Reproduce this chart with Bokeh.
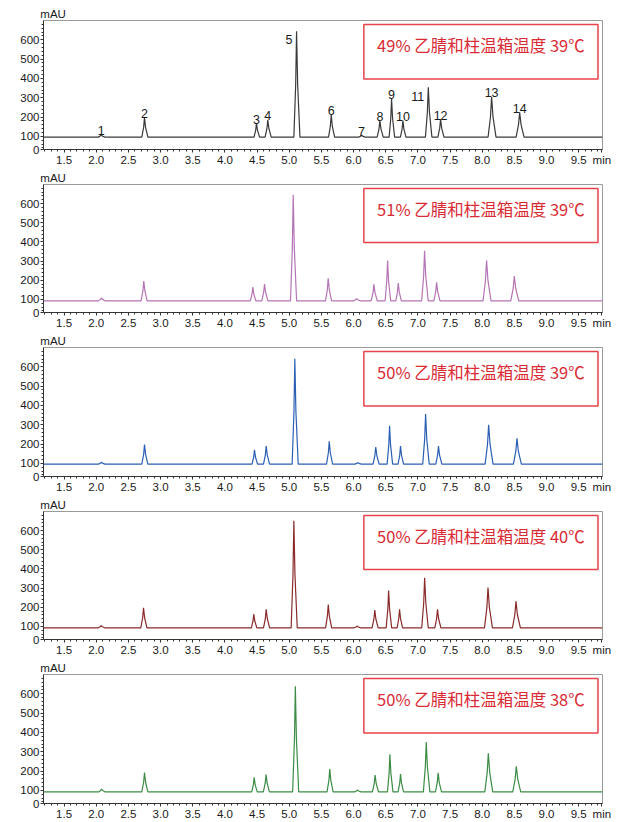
from bokeh.plotting import figure
from bokeh.models import (ColumnDataSource, Label, BoxAnnotation, Range1d,
                          FixedTicker, NumeralTickFormatter, LinearAxis)
from bokeh.layouts import column
from bokeh.embed import file_html
from bokeh.resources import INLINE
from bokeh.core.properties import value

# ---------------- data ----------------
peak_ids = [str(i) for i in range(1, 15)]

# retention times (min) and apex heights (mAU)
rt_49_39 = [2.076, 2.750, 4.491, 4.667, 5.114, 5.653, 6.124, 6.409, 6.591, 6.767, 7.162, 7.353, 8.146, 8.582]
h_49_39 = [108, 197, 169, 186, 644, 211, 106, 182, 294, 182, 354, 189, 305, 225]

rt_51_39 = [2.080, 2.739, 4.434, 4.616, 5.062, 5.606, 6.047, 6.316, 6.529, 6.695, 7.104, 7.291, 8.068, 8.499]
h_51_39 = [108, 196, 165, 180, 646, 211, 104, 179, 303, 186, 354, 189, 303, 222]

rt_50_39 = [2.078, 2.750, 4.460, 4.642, 5.087, 5.622, 6.065, 6.345, 6.560, 6.730, 7.120, 7.320, 8.100, 8.540]
h_50_39 = [106, 197, 170, 190, 642, 214, 104, 185, 295, 190, 355, 190, 300, 230]

rt_50_40 = [2.076, 2.735, 4.449, 4.642, 5.072, 5.607, 6.055, 6.330, 6.545, 6.715, 7.105, 7.305, 8.090, 8.525]
h_50_40 = [104, 198, 164, 190, 652, 215, 102, 185, 288, 190, 354, 190, 303, 232]

rt_50_38 = [2.082, 2.750, 4.455, 4.640, 5.095, 5.630, 6.060, 6.335, 6.565, 6.730, 7.130, 7.315, 8.095, 8.530]
h_50_38 = [107, 192, 168, 182, 639, 211, 102, 179, 287, 184, 350, 191, 292, 225]

# half width of each peak at its base (min)
base_halfwidth = [0.045, 0.042, 0.038, 0.042, 0.042, 0.042, 0.045, 0.042, 0.038, 0.038, 0.045, 0.042, 0.055, 0.055]

baselines = [96, 93, 96, 93, 92]

titles = ["49% 乙腈和柱温箱温度 39℃",
          "51% 乙腈和柱温箱温度 39℃",
          "50% 乙腈和柱温箱温度 39℃",
          "50% 乙腈和柱温箱温度 40℃",
          "50% 乙腈和柱温箱温度 38℃"]

x_tick_values = [1.5, 2.0, 2.5, 3.0, 3.5, 4.0, 4.5, 5.0, 5.5, 6.0, 6.5, 7.0, 7.5, 8.0, 8.5, 9.0, 9.5]
x_unit_tick = 9.86          # where the unit text "min" sits on the time axis
y_unit_tick = 1.33          # where the unit text "mAU" sits above the frame
y_tick_values = [100, 200, 300, 400, 500, 600]
x_start, x_end = 1.18, 9.87
y_start, y_end = 32, 700

series = [(rt_49_39, h_49_39), (rt_51_39, h_51_39), (rt_50_39, h_50_39),
          (rt_50_40, h_50_40), (rt_50_38, h_50_38)]
colors = ["#3a3a3a", "#b574b5", "#2b5fb4", "#8a2a2a", "#3c8c46"]


def trace(rts, hs, base):
    xs, ys = [x_start], [base]
    for r, hh, w in zip(rts, hs, base_halfwidth):
        mid = base + 0.5 * (hh - base)
        xs += [r - w, r - 0.32 * w, r, r + 0.4 * w, r + 1.25 * w]
        ys += [base, mid, hh, mid, base]
    xs.append(x_end)
    ys.append(base)
    return xs, ys


FONT = "Liberation Sans"
heights = [168, 163, 164, 163, 164]
top_borders = [20, 16, 16, 16, 16]
figs = []
for i, ((rts, hs), col, title, base) in enumerate(zip(series, colors, titles, baselines)):
    p = figure(width=626, height=heights[i],
               x_range=Range1d(x_start, x_end), y_range=Range1d(y_start, y_end),
               output_backend="svg", toolbar_location=None,
               min_border_left=43, min_border_right=24,
               min_border_top=top_borders[i], min_border_bottom=17,
               background_fill_color="white", border_fill_color="white")
    p.grid.visible = False
    p.outline_line_color = "#9a9a9a"
    p.outline_line_width = 1

    xaxis = p.below[0]
    yaxis = p.left[0]
    minor_x = [round(1.2 + 0.1 * k, 1) for k in range(87)]
    xaxis.ticker = FixedTicker(ticks=x_tick_values + [x_unit_tick], minor_ticks=minor_x)
    xaxis.formatter = NumeralTickFormatter(format="0.0")
    xaxis.major_label_overrides = {x_unit_tick: "min"}
    yaxis.ticker = FixedTicker(ticks=[y_start] + y_tick_values,
                               minor_ticks=list(range(40, 700, 20)))
    yaxis.major_label_overrides = {y_start: "0"}
    for ax in (xaxis, yaxis):
        ax.axis_line_color = "#333333"
        ax.major_tick_line_color = "#333333"
        ax.minor_tick_line_color = "#333333"
        ax.major_tick_out = 3
        ax.major_tick_in = 0
        ax.minor_tick_out = 2
        ax.minor_tick_in = 0
        ax.major_label_text_font = FONT
        ax.major_label_text_font_size = "11.5px"
        ax.major_label_text_color = "#1a1a1a"
        ax.major_label_standoff = 1
    xaxis.major_label_standoff = 1

    # unit text "mAU" carried by a bare axis above the frame
    unit_axis = LinearAxis(ticker=FixedTicker(ticks=[y_unit_tick], minor_ticks=[]),
                           major_label_overrides={y_unit_tick: "mAU"},
                           axis_line_alpha=0, major_tick_out=0, major_tick_in=0,
                           minor_tick_out=0, minor_tick_in=0, major_label_standoff=1,
                           major_label_text_font=FONT, major_label_text_font_size="11.5px",
                           major_label_text_color="#1a1a1a")
    p.add_layout(unit_axis, "above")

    xs, ys = trace(rts, hs, base)
    p.line(xs, ys, line_color=col, line_width=1.2)

    if i == 0:
        src = ColumnDataSource(dict(
            x=rts, y=hs, t=peak_ids,
            align=["center"] * 4 + ["right"] + ["center"] * 5 + ["right"] + ["center"] * 3,
            xo=[0] * 4 + [-4] + [0] * 5 + [-4] + [0] * 3,
            yo=[-4] * 4 + [8] + [-4] * 5 + [9] + [-4] * 3,
        ))
        p.text(x="x", y="y", text="t", source=src, text_align="align",
               x_offset="xo", y_offset="yo", text_baseline="alphabetic",
               text_font=value(FONT), text_font_size="12.5px", text_color="#1a1a1a")

    p.add_layout(BoxAnnotation(left=6.16, right=9.80, bottom=397, top=679.5,
                               fill_color="white", fill_alpha=1.0,
                               line_color="#e8434b", line_alpha=1.0, line_width=1.5))
    p.add_layout(Label(x=7.98, y=572, text=title, text_align="center",
                       text_baseline="middle", text_font="Noto Sans CJK SC",
                       text_font_size="16.5px", text_color="#d92b35"))
    figs.append(p)

layout = column(*figs, spacing=0)
open("out.html", "w").write(file_html(layout, INLINE))
